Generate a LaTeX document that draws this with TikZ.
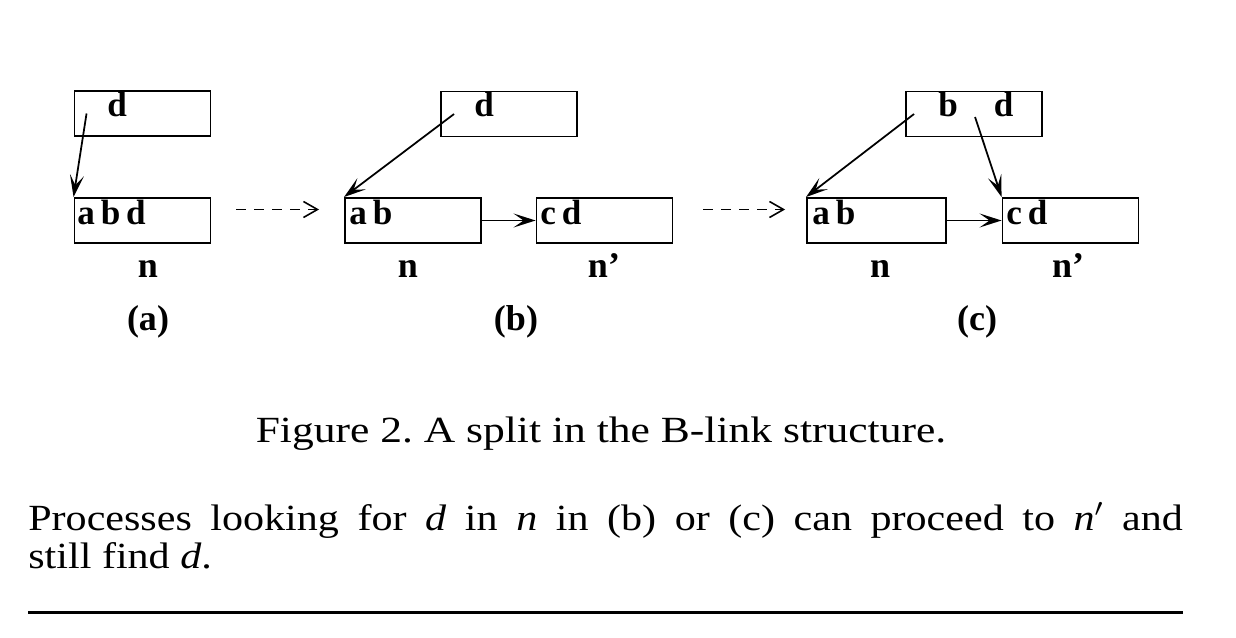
\documentclass[tikz,border=0pt]{standalone}
\usepackage{fontspec}
\usepackage{graphicx}
\setmainfont{Liberation Serif}
\usetikzlibrary{
  positioning,
  arrows.meta,
  calc
}
\tikzset{
  nodebox/.style={
    draw, line width=1.1pt,
    minimum width=2.72cm,
    minimum height=0.9cm,
    inner sep=0pt
  },
  keys/.style={font=\fontsize{20}{20}\selectfont\bfseries, inner sep=0pt, anchor=base west},
  tag/.style={font=\fontsize{20.5}{20.5}\selectfont\bfseries, inner sep=0pt, anchor=base},
  ptr/.style={-{Stealth[length=4.4mm, width=2.8mm, inset=2mm]}, line width=1pt},
  phase/.style={dash pattern=on 2mm off 1.6mm, -{Straight Barb[length=2.8mm, width=3.2mm]}, line width=0.9pt}
}

\begin{document}
\begin{tikzpicture}[
  x=0.02cm, y=-0.02cm,
  prose/.style={font=\fontsize{21}{22}\selectfont, inner sep=0pt},
]
\useasboundingbox (0,0) rectangle (1236,638);

% (a)
\node[nodebox] (topA) at (142.5,113.5) {};
\node[nodebox] (nA) at (142.5,220.5) {};
\node[keys] (kTopA) at (107,117) {d};
\node[keys] (kA) at (77,225) {a\,b\,d};
\coordinate (pA) at ([xshift=2.6mm]topA.west);
\draw[ptr] (pA) -- (nA.north west);
\node[tag] (lnA) at (148,277) {n};
\node[tag] (capA) at (148,330) {(a)};

% (b)
\node[nodebox] (topB) at (509,114) {};
\node[nodebox] (nB) at (413,220.5) {};
\node[nodebox] (nBp) at (604.5,220.5) {};
\node[keys] (kTopB) at (474,117) {d};
\node[keys] (kB) at (349,225) {a\,b};
\node[keys] (kBp) at (540,225) {c\,d};
\coordinate (pB) at ([xshift=2.8mm]topB.west);
\draw[ptr] (pB) -- (nB.north west);
\draw[ptr] (nB.east) -- (nBp.west);
\node[tag] (lnB) at (408,277) {n};
\node[tag] (lnBp) at (604,277) {n’};
\node[tag] (capB) at (516,330) {(b)};

\draw[phase, shorten <=5mm, shorten >=5mm] ([yshift=2.2mm]nA.east) -- ([yshift=2.2mm]nB.west);

% (c)
\node[nodebox] (topC) at (974,114) {};
\node[nodebox, minimum width=2.78cm] (nC) at (876.5,220.5) {};
\node[nodebox] (nCp) at (1070.5,220.5) {};
\node[keys] (kTopC) at (938,117) {b\hspace{7.2mm}d};
\node[keys] (kC) at (812,225) {a\,b};
\node[keys] (kCp) at (1006,225) {c\,d};
\coordinate (pC1) at ([xshift=1.8mm]topC.west);
\coordinate (pC2) at ([xshift=14mm, yshift=-0.6mm]topC.west);
\draw[ptr] (pC1) -- (nC.north west);
\draw[ptr] (pC2) -- (nCp.north west);
\draw[ptr] (nC.east) -- (nCp.west);
\node[tag] (lnC) at (880,277) {n};
\node[tag] (lnCp) at (1068,277) {n’};
\node[tag] (capC) at (977,330) {(c)};

\draw[phase, shorten <=6mm, shorten >=4.2mm] ([yshift=2.2mm]nBp.east) -- ([yshift=2.2mm]nC.west);

% caption and text
\node[prose, anchor=base] (caption) at (601,442)
  {\scalebox{1.18}[1]{Figure 2.\ A split in the B-link structure.}};
\node[prose, anchor=base west] (remark) at (28,530)
  {\scalebox{1.14}[1]{\parbox[t]{20.26cm}{\fontsize{21}{22}\selectfont
  Processes looking for \textit{d} in \textit{n} in (b) or (c) can proceed to \textit{n}$'$ and\linebreak still find \textit{d}.}}};
\coordinate (ruleL) at (28,612);
\coordinate (ruleR) at (1183,612);
\draw[line width=0.06cm] (ruleL) -- (ruleR);

\end{tikzpicture}
\end{document}
